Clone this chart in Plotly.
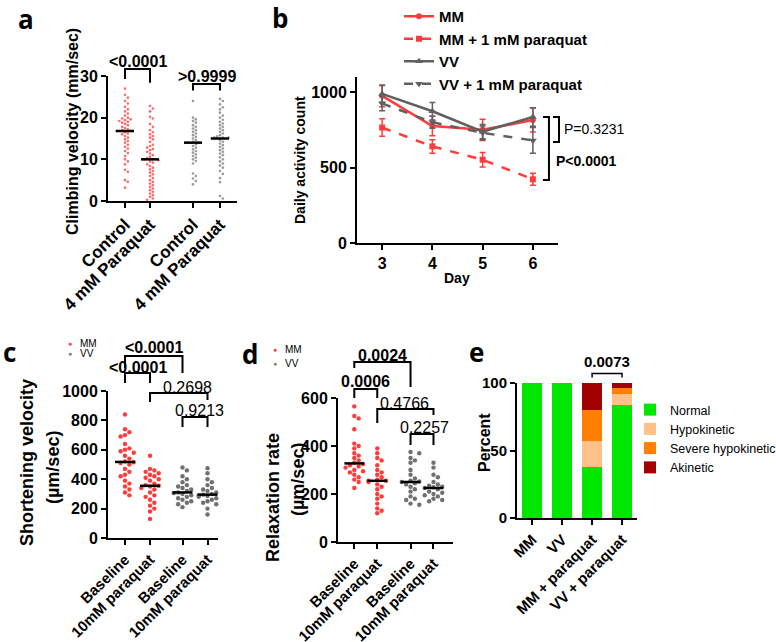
import numpy as np
import plotly.graph_objects as go

W, H = 776, 642
FONT = "Liberation Sans, Arial, sans-serif"
RED = "#ff3b3b"
GRAY = "#606060"

# ---------------- data ----------------
# panel a : climbing velocity (mm/sec)
a_labels = ["Control", "4 mM Paraquat", "Control", "4 mM Paraquat"]
a_mm_control = [27.0, 25.5, 24.8, 24.0, 23.4, 22.6, 22.0, 21.5, 21.0, 20.5, 20.0, 19.8,
                19.6, 19.4, 19.2, 19.0, 18.8, 18.5, 18.2, 17.8, 17.5, 17.2, 17.0, 16.8,
                16.8, 16.5, 16.2, 16.0, 15.6, 15.2, 14.8, 14.4, 14.0, 13.5, 13.0, 12.6,
                12.0, 11.5, 10.8, 10.0, 9.5, 8.8, 7.5, 7.0, 5.0, 4.6, 3.2]
a_mm_paraquat = [22.8, 22.2, 21.5, 20.2, 19.8, 18.5, 17.8, 17.0, 16.5, 16.0, 15.6, 15.2,
                 14.8, 14.2, 13.5, 13.2, 12.8, 12.5, 12.2, 11.8, 11.4, 11.0, 10.6, 10.3,
                 10.0, 10.0, 9.8, 9.5, 9.2, 8.8, 8.4, 8.0, 7.6, 7.2, 6.8, 6.4, 6.0, 5.5,
                 5.0, 4.6, 4.2, 3.8, 3.4, 3.0, 2.6, 2.2, 1.8, 1.4, 1.0, 0.6, 0.3]
a_vv_control = [24.0, 20.0, 19.6, 19.2, 18.8, 18.2, 17.8, 17.4, 17.0, 16.6, 16.2, 15.8,
                15.4, 15.0, 14.6, 14.2, 14.0, 14.0, 13.6, 13.2, 12.8, 12.4, 12.0, 11.6,
                11.2, 10.8, 10.4, 10.0, 9.6, 9.0, 6.6, 6.0, 5.4, 4.8, 4.0]
a_vv_paraquat = [24.5, 24.0, 23.2, 22.5, 22.0, 21.2, 20.5, 20.0, 19.5, 19.0, 18.6, 18.2,
                 17.8, 17.4, 17.0, 16.6, 16.2, 15.8, 15.5, 15.2, 15.2, 15.2, 15.0, 14.6,
                 14.2, 13.8, 13.4, 13.0, 12.6, 12.2, 11.8, 11.4, 11.0, 10.5, 10.0, 9.5,
                 9.0, 8.5, 8.0, 7.2, 6.5, 5.5, 4.5, 1.2, 0.6]

# panel b : daily activity count
b_days = [3, 4, 5, 6]
b_mm = [975, 775, 750, 815]
b_mm_err = [72, 65, 70, 80]
b_mm_pq = [765, 640, 552, 422]
b_mm_pq_err = [58, 45, 48, 40]
b_vv = [988, 873, 738, 835]
b_vv_err = [55, 58, 48, 62]
b_vv_pq = [925, 800, 730, 680]
b_vv_pq_err = [48, 40, 45, 85]
b_names = ["MM", "MM + 1 mM paraquat", "VV", "VV + 1 mM paraquat"]

# panel c : shortening velocity (um/sec)
cd_labels = ["Baseline", "10mM paraquat", "Baseline", "10mM paraquat"]
c_mm_base = [840, 740, 720, 700, 690, 640, 610, 600, 590, 580, 560, 540, 520, 515, 510,
             500, 470, 450, 430, 420, 390, 370, 350, 330, 310, 290]
c_mm_pq = [560, 470, 460, 450, 440, 430, 420, 410, 400, 390, 370, 360, 355, 350, 340,
           330, 310, 290, 280, 260, 240, 220, 200, 180, 130]
c_vv_base = [480, 460, 420, 400, 380, 360, 350, 340, 330, 320, 310, 305, 300, 290, 280,
             270, 260, 250, 240, 230, 210]
c_vv_pq = [475, 440, 400, 380, 360, 340, 330, 320, 310, 300, 295, 290, 285, 280, 270,
           260, 250, 240, 230, 200, 160]

# panel d : relaxation rate (um/sec)
d_mm_base = [565, 525, 515, 470, 410, 400, 390, 370, 360, 350, 340, 330, 325, 320, 315,
             310, 300, 295, 290, 280, 270, 260, 250, 225]
d_mm_pq = [390, 370, 350, 340, 320, 300, 290, 280, 270, 260, 255, 255, 250, 240, 230,
           220, 200, 190, 180, 160, 140, 130, 120]
d_vv_base = [375, 370, 350, 340, 330, 300, 280, 265, 255, 252, 250, 245, 240, 230, 220,
             210, 190, 180, 175, 160, 155]
d_vv_pq = [330, 310, 280, 270, 250, 240, 235, 230, 228, 225, 220, 210, 205, 200, 195,
           190, 180, 175, 170]

# panel e : percent
e_labels = ["MM", "VV", "MM + paraquat", "VV + paraquat"]
e_normal = [100, 100, 38, 84]
e_hypo = [0, 0, 19, 8]
e_severe = [0, 0, 23, 4]
e_akinetic = [0, 0, 20, 4]
e_names = ["Normal", "Hypokinetic", "Severe hypokinetic", "Akinetic"]
e_colors = ["#00e600", "#ffc08a", "#ff8000", "#a00000"]

# ---------------- geometry (pixels) ----------------
P = {
    'a': dict(ax='', x0=108, x1=237, yt=76, yb=201, xr=[0.32, 5.48], yr=[0, 30],
              pos=[1, 2, 3.72, 4.8]),
    'b': dict(ax='2', x0=357, x1=558, yt=77, yb=243, xr=[2.5, 6.5], yr=[0, 1100]),
    'c': dict(ax='3', x0=108, x1=218, yt=391, yb=538, xr=[0.32, 4.72], yr=[0, 1000],
              pos=[1, 2, 3.3, 4.3]),
    'd': dict(ax='4', x0=338, x1=453, yt=398, yb=542, xr=[0.29, 5.3], yr=[0, 600],
              pos=[1, 2, 3.45, 4.45]),
    'e': dict(ax='5', x0=517, x1=637, yt=383, yb=518, xr=[0.49, 4.5], yr=[0, 100],
              pos=[1, 2, 3, 4]),
}


def X(p, v):
    return (p['x0'] + (v - p['xr'][0]) / (p['xr'][1] - p['xr'][0]) * (p['x1'] - p['x0'])) / W


def Y(p, v):
    return 1 - (p['yb'] - (v - p['yr'][0]) / (p['yr'][1] - p['yr'][0]) * (p['yb'] - p['yt'])) / H


def swarm(vals, xc, p, dot_px, max_px):
    vals = np.asarray(vals, float)
    xu = (p['xr'][1] - p['xr'][0]) / (p['x1'] - p['x0'])
    yp = (p['yb'] - p['yt']) / (p['yr'][1] - p['yr'][0])
    cands = [0.0]
    n = 1
    while n * dot_px * 0.95 <= max_px:
        cands += [n * dot_px * 0.95, -n * dot_px * 0.95]
        n += 1
    placed = []
    out = np.zeros(len(vals))
    for i in np.argsort(-vals, kind='stable'):
        y = vals[i] * yp
        chosen = cands[-1]
        for c in cands:
            if all((c - qx) ** 2 + (y - qy) ** 2 >= dot_px ** 2 for qx, qy in placed):
                chosen = c
                break
        placed.append((chosen, y))
        out[i] = xc + chosen * xu
    return out


fig = go.Figure()
shapes = []
ann = []


def axes_for(p):
    return dict(xaxis='x' + p['ax'], yaxis='y' + p['ax'])


def dots(p, groups, colors, dot_px, max_px, size, half):
    for vals, xc, col in zip(groups, p['pos'], colors):
        xs = swarm(vals, xc, p, dot_px, max_px)
        fig.add_trace(go.Scatter(x=xs, y=vals, mode='markers', showlegend=False,
                                 marker=dict(size=size, color=col, line=dict(width=0)),
                                 cliponaxis=False, hoverinfo='skip', **axes_for(p)))
        med = float(np.median(vals))
        fig.add_trace(go.Scatter(x=[xc - half, xc + half], y=[med, med], mode='lines',
                                 line=dict(color='black', width=2.5), showlegend=False,
                                 hoverinfo='skip', **axes_for(p)))


def bracket(p, xa, xb, yh, ya, yb, text, ty, tx, bold, size=15, lw=2):
    shapes.append(dict(type='path', xref='paper', yref='paper',
                       path=f"M {X(p, xa)},{Y(p, ya)} L {X(p, xa)},{Y(p, yh)} L {X(p, xb)},{Y(p, yh)} L {X(p, xb)},{Y(p, yb)}",
                       line=dict(color='black', width=lw)))
    ann.append(dict(text=text, x=X(p, tx), y=Y(p, ty), xref='paper', yref='paper',
                    showarrow=False, xanchor='center', yanchor='middle',
                    font=dict(family=FONT, size=size, color='black',
                              weight='bold' if bold else 'normal')))


def text(t, xpx, ypx, size, bold=True, angle=0, xanchor='center', family=FONT, color='black'):
    ann.append(dict(text=t, x=xpx / W, y=1 - ypx / H, xref='paper', yref='paper',
                    showarrow=False, xanchor=xanchor, yanchor='middle', textangle=angle,
                    font=dict(family=family, size=size, color=color,
                              weight='bold' if bold else 'normal')))


# ---------------- panel a ----------------
pa = P['a']
dots(pa, [a_mm_control, a_mm_paraquat, a_vv_control, a_vv_paraquat],
     ['#ff6b6b', '#ff6b6b', '#9a9a9a', '#9a9a9a'], 3.0, 9, 2.6, 0.36)
bracket(pa, 1, 2, 31.7, 29.3, 28.4, "<0.0001", 33.5, 1.52, True, 16)
bracket(pa, 3.72, 4.8, 28.1, 26.5, 26.5, ">0.9999", 29.8, 4.27, True, 16)

# ---------------- panel b ----------------
pb = P['b']
series = [(b_mm, b_mm_err, RED, 'solid', 'circle', 6),
          (b_mm_pq, b_mm_pq_err, RED, 'dash', 'square', 6),
          (b_vv, b_vv_err, GRAY, 'solid', 'triangle-up', 7),
          (b_vv_pq, b_vv_pq_err, GRAY, 'dash', 'triangle-down', 7)]
for name, (vals, err, col, dash, sym, ms) in zip(b_names, series):
    fig.add_trace(go.Scatter(x=b_days, y=vals, name=name, mode='lines+markers',
                             legendgroup=name, legend='legend',
                             line=dict(color=col, width=2.5, dash=dash),
                             marker=dict(symbol=sym, size=ms, color=col),
                             error_y=dict(type='data', array=err, color=col, thickness=1.5, width=3),
                             cliponaxis=False, **axes_for(pb)))
# P-value brackets
shapes.append(dict(type='path', xref='paper', yref='paper',
                   path=f"M {X(pb, 6.4)},{Y(pb, 835)} L {X(pb, 6.52)},{Y(pb, 835)} L {X(pb, 6.52)},{Y(pb, 669)} L {X(pb, 6.4)},{Y(pb, 669)}",
                   line=dict(color='black', width=2)))
shapes.append(dict(type='path', xref='paper', yref='paper',
                   path=f"M {X(pb, 6.2)},{Y(pb, 835)} L {X(pb, 6.32)},{Y(pb, 835)} L {X(pb, 6.32)},{Y(pb, 417)} L {X(pb, 6.2)},{Y(pb, 417)}",
                   line=dict(color='black', width=2)))
text("P=0.3231", 562, 129, 14, bold=False, xanchor='left')
text("P<0.0001", 554, 161, 14, bold=True, xanchor='left')

# ---------------- panel c ----------------
pc = P['c']
dots(pc, [c_mm_base, c_mm_pq, c_vv_base, c_vv_pq], [RED, RED, '#707070', '#707070'],
     4.6, 9, 4.4, 0.4)
bracket(pc, 1, 3.3, 1238, 1156, 1122, "<0.0001", 1293, 2.15, True, 16)
bracket(pc, 1, 2, 1122, 1054, 1054, "<0.0001", 1163, 1.5, True, 16)
bracket(pc, 2, 4.3, 986, 925, 939, "0.2698", 1027, 3.5, False, 16)
bracket(pc, 3.3, 4.3, 823, 755, 755, "0.9213", 864, 4.0, False, 16)

# ---------------- panel d ----------------
pd_ = P['d']
dots(pd_, [d_mm_base, d_mm_pq, d_vv_base, d_vv_pq], [RED, RED, '#707070', '#707070'],
     4.6, 9, 4.4, 0.43)
bracket(pd_, 1, 3.45, 750, 725, 646, "0.0024", 779, 2.25, True, 16)
bracket(pd_, 1, 2, 637, 600, 600, "0.0006", 667, 1.5, True, 16)
bracket(pd_, 2, 4.45, 554, 496, 529, "0.4766", 579, 3.2, False, 16)
bracket(pd_, 3.45, 4.45, 450, 404, 404, "0.2257", 479, 4.05, False, 16)

# ---------------- panel e ----------------
pe = P['e']
for name, vals, col in zip(e_names, [e_normal, e_hypo, e_severe, e_akinetic], e_colors):
    fig.add_trace(go.Bar(x=pe['pos'], y=vals, name=name, marker=dict(color=col, line=dict(width=0)),
                         width=0.66, legend='legend2', legendgroup=name, **axes_for(pe)))
bracket(pe, 3, 4, 107, 104, 104, "0.0073", 116, 3.5, True, 15, lw=1.5)

# ---------------- texts ----------------
LET = "Open Sans, Liberation Sans, sans-serif"
text("a", 26, 19, 26, family=LET)
text("b", 280, 18, 26, family=LET)
text("c", 9, 352, 26, family=LET)
text("d", 250, 354, 26, family=LET)
text("e", 476, 352, 26, family=LET)

text("Climbing velocity (mm/sec)", 72, 132, 16, angle=-90)
text("Daily activity count", 300, 160, 14, angle=-90)
text("Day", 457, 278, 14)
text("Shortening velocity", 27, 463, 18, angle=-90)
text("(µm/sec)", 53, 467, 18, angle=-90)
text("Relaxation rate", 273, 498, 18, angle=-90)
text("(µm/sec)", 298, 480, 18, angle=-90)
text("Percent", 484, 443, 16, angle=-90)

# c / d mini legends
for (dx, y1, y2) in [(70, 344, 353), (275, 350, 363)]:
    text("●", dx, y1, 7, bold=False, color=RED)
    text("●", dx, y2, 7, bold=False, color='#808080')
    text("MM", dx + 8, y1, 10, bold=False, xanchor='left')
    text("VV", dx + 8, y2, 10, bold=False, xanchor='left')

# ---------------- axes ----------------
def axis_style(p, xr, yr, xticks, xtext, yticks, xangle, xsize, ysize):
    base = dict(showline=True, linecolor='black', linewidth=2, ticks='outside', ticklen=5,
                tickwidth=2, tickcolor='black', showgrid=False, zeroline=False, automargin=False)
    xa = dict(base, domain=[p['x0'] / W, p['x1'] / W], range=xr, anchor='y' + p['ax'],
              tickmode='array', tickvals=xticks, ticktext=xtext, tickangle=xangle,
              tickfont=dict(family=FONT, size=xsize, color='black', weight='bold'))
    ya = dict(base, domain=[1 - p['yb'] / H, 1 - p['yt'] / H], range=yr, anchor='x' + p['ax'],
              tickmode='array', tickvals=yticks, ticktext=[str(v) for v in yticks],
              tickfont=dict(family=FONT, size=ysize, color='black', weight='bold'))
    return xa, ya


layout_axes = {}
for key, xticks, xtext, yticks, ang, xs, ys in [
        ('a', pa['pos'], a_labels, [0, 10, 20, 30], -45, 17, 16),
        ('b', b_days, [str(d) for d in b_days], [0, 500, 1000], 0, 16, 16),
        ('c', pc['pos'], cd_labels, [0, 200, 400, 600, 800, 1000], -45, 15, 16),
        ('d', pd_['pos'], cd_labels, [0, 200, 400, 600], -45, 15, 16),
        ('e', pe['pos'], e_labels, [0, 50, 100], -45, 15, 15)]:
    p = P[key]
    xa, ya = axis_style(p, p['xr'], p['yr'], xticks, xtext, yticks, ang, xs, ys)
    layout_axes['xaxis' + p['ax']] = xa
    layout_axes['yaxis' + p['ax']] = ya

fig.update_layout(
    width=W, height=H, margin=dict(l=0, r=0, t=0, b=0, autoexpand=False),
    paper_bgcolor='white', plot_bgcolor='white',
    barmode='stack', bargap=0.3,
    font=dict(family=FONT, color='black'),
    showlegend=True,
    legend=dict(x=399 / W, y=1 - 0 / H, xanchor='left', yanchor='top', bgcolor='rgba(0,0,0,0)',
                font=dict(family=FONT, size=15, color='black', weight='bold'),
                traceorder='grouped', tracegroupgap=0, itemwidth=30),
    legend2=dict(x=630 / W, y=1 - 395 / H, xanchor='left', yanchor='top', bgcolor='rgba(0,0,0,0)',
                 font=dict(family=FONT, size=12.5, color='black'),
                 traceorder='grouped', tracegroupgap=0, itemwidth=30),
    shapes=shapes, annotations=ann,
    **layout_axes,
)

fig.write_html("out.html", config={'displayModeBar': False},
               post_script="document.body.style.margin='0px';")
